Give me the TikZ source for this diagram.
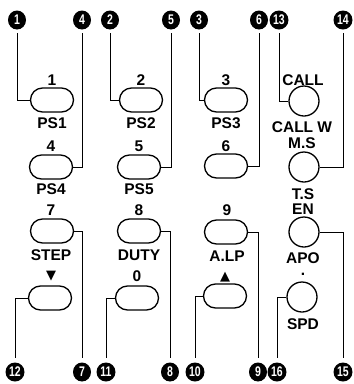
\documentclass[tikz,border=0pt]{standalone}
\usepackage{fontspec}
\setmainfont{Liberation Sans}
\newfontfamily\numfont[FakeStretch=0.75]{Liberation Sans}
\newfontfamily\symfont{DejaVu Sans}
\usetikzlibrary{shapes.misc,shapes.geometric}
\begin{document}
\begin{tikzpicture}[x=1pt,y=-1pt,
  keyb/.style={draw, rounded rectangle, line width=1.3pt, minimum width=43pt, minimum height=24pt, inner sep=0pt},
  rkey/.style={draw, circle, line width=1.3pt, minimum size=30pt, inner sep=0pt},
  lbl/.style={font=\bfseries\fontsize{15.5}{15.5}\selectfont, inner sep=0pt},
  sym/.style={font=\symfont\fontsize{13}{13}\selectfont, inner sep=0pt},
  num/.style={fill=black, ellipse, minimum width=18pt, minimum height=19pt, inner sep=0pt, text=white, font=\numfont\bfseries\fontsize{14}{14}\selectfont},
  numw/.style={num, minimum width=19pt},
  lead/.style={line width=1pt}]
\useasboundingbox (0,0) rectangle (354,384);
% keys
\node[keyb] (b1) at (52,100) {};
\node[keyb] (b2) at (141,100) {};
\node[keyb] (b3) at (226,100) {};
\node[rkey] (c1) at (304,101) {};
\node[keyb] (b4) at (51,167) {};
\node[keyb] (b5) at (139,167) {};
\node[keyb] (b6) at (226,166) {};
\node[rkey] (c2) at (304,167) {};
\node[keyb] (b7) at (52,231) {};
\node[keyb] (b8) at (139,231) {};
\node[keyb] (b9) at (226,232) {};
\node[rkey] (c3) at (304,232) {};
\node[keyb] (b10) at (50,298) {};
\node[keyb] (b11) at (137,298) {};
\node[keyb] (b12) at (225,296) {};
\node[rkey] (c4) at (302,297) {};
% labels
\node[lbl] (t1) at (52,80) {1};
\node[lbl] (t2) at (141,80) {2};
\node[lbl] (t3) at (226,80) {3};
\node[lbl] (tcall) at (303,80) {CALL};
\node[lbl] (tps1) at (52,123) {PS1};
\node[lbl] (tps2) at (141,123) {PS2};
\node[lbl] (tps3) at (226,123) {PS3};
\node[lbl] (tcallw) at (302,127) {CALL W};
\node[lbl] (t4) at (51,146) {4};
\node[lbl] (t5) at (139,146) {5};
\node[lbl] (t6) at (226,146) {6};
\node[lbl] (tms) at (302,143) {M.S};
\node[lbl] (tps4) at (51,189) {PS4};
\node[lbl] (tps5) at (139,189) {PS5};
\node[lbl] (tts) at (303,194) {T.S};
\node[lbl] (t7) at (51,210) {7};
\node[lbl] (t8) at (139,210) {8};
\node[lbl] (t9) at (227,210) {9};
\node[lbl] (ten) at (303,209) {EN};
\node[lbl] (tstep) at (51,255) {STEP};
\node[lbl] (tduty) at (139,255) {DUTY};
\node[lbl] (talp) at (227,256) {A.LP};
\node[lbl] (tapo) at (303,258) {APO};
\node[sym] (tdown) at (51,276) {▼};
\node[lbl] (t0) at (137,276) {0};
\node[sym] (tup) at (225,277) {▲};
\node[lbl] (tdot) at (303,274) {.};
\node[lbl] (tspd) at (303,324) {SPD};
% callout numbers
\node[num] (n1) at (17,20) {1};
\node[num] (n4) at (82,20) {4};
\node[num] (n2) at (110,20) {2};
\node[num] (n5) at (171,20) {5};
\node[num] (n3) at (199,20) {3};
\node[num] (n6) at (259,20) {6};
\node[numw] (n13) at (279,20) {13};
\node[numw] (n14) at (343,20) {14};
\node[numw] (n12) at (15,372) {12};
\node[num] (n7) at (82,372) {7};
\node[numw] (n11) at (106,372) {11};
\node[num] (n8) at (170,372) {8};
\node[numw] (n10) at (195,372) {10};
\node[num] (n9) at (258,372) {9};
\node[numw] (n16) at (277,372) {16};
\node[numw] (n15) at (343,372) {15};
% leaders
\draw[lead, shorten >=3pt] (b1.west) -| (n1.south);
\draw[lead, shorten >=3pt] (b4.east) -| (n4.south);
\draw[lead, shorten >=3pt] (b2.west) -| (n2.south);
\draw[lead, shorten >=3pt] (b5.east) -| (n5.south);
\draw[lead, shorten >=3pt] (b3.west) -| (n3.south);
\draw[lead, shorten >=3pt] (b6.east) -| (n6.south);
\draw[lead, shorten >=3pt] (c1.west) -| (n13.south);
\draw[lead, shorten >=3pt] (c2.east) -| (n14.south);
\draw[lead, shorten >=4pt] (b10.west) -| (n12.north);
\draw[lead, shorten >=4pt] (b7.east) -| (n7.north);
\draw[lead, shorten >=4pt] (b11.west) -| (n11.north);
\draw[lead, shorten >=4pt] (b8.east) -| (n8.north);
\draw[lead, shorten >=4pt] (b12.west) -| (n10.north);
\draw[lead, shorten >=4pt] (b9.east) -| (n9.north);
\draw[lead, shorten >=4pt] (c4.west) -| (n16.north);
\draw[lead, shorten >=4pt] (c3.east) -| (n15.north);
\end{tikzpicture}
\end{document}
